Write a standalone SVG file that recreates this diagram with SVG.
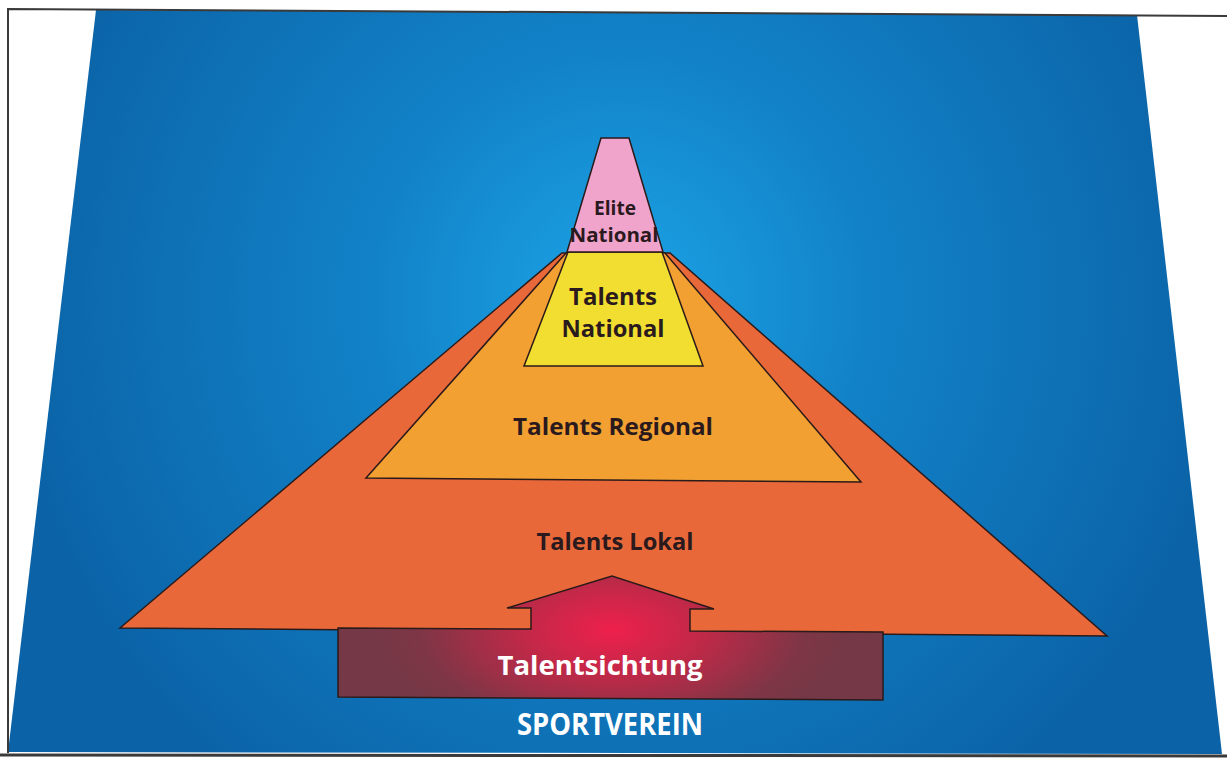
<svg xmlns="http://www.w3.org/2000/svg" width="1227" height="758" viewBox="0 0 1227 758">
  <defs>
    <radialGradient id="blueGlow" gradientUnits="userSpaceOnUse" cx="620" cy="300" r="620">
      <stop offset="0" stop-color="#1ca4e6"/>
      <stop offset="0.4" stop-color="#1282c8"/>
      <stop offset="1" stop-color="#0b62a6"/>
    </radialGradient>
    <radialGradient id="redGlow" gradientUnits="userSpaceOnUse" cx="612" cy="630" r="240" gradientTransform="translate(612 630) scale(1 0.5) translate(-612 -630)">
      <stop offset="0" stop-color="#ee204c"/>
      <stop offset="0.35" stop-color="#c42848"/>
      <stop offset="0.8" stop-color="#7e3646"/>
      <stop offset="1" stop-color="#743846"/>
    </radialGradient>
    <style>
      .edge { stroke: #2a1a1a; stroke-width: 1.5; stroke-linejoin: miter; }
      .lbl { font-family: "Open Sans", "Liberation Sans", sans-serif; font-weight: 700; fill: #2a1a1e; text-anchor: middle; }
      .wlbl { font-family: "Open Sans", "Liberation Sans", sans-serif; font-weight: 700; fill: #ffffff; text-anchor: middle; }
    </style>
  </defs>

  <rect x="0" y="0" width="1227" height="758" fill="#ffffff"/>

  <g id="background">
    <polygon points="96,10 1137,15 1222,754 8,752" fill="url(#blueGlow)"/>
    <polyline points="8,753 8,9 1227,16" fill="none" stroke="#3a3a3a" stroke-width="2"/>
    <line x1="0" y1="755" x2="1227" y2="756" stroke="#3a3a3a" stroke-width="3"/>
  </g>

  <g id="talents-lokal">
    <polygon class="edge" points="120,628 562,253 670,253 1107,636" fill="#e9683a"/>
    <text class="lbl" x="615" y="550" font-size="23" textLength="157" lengthAdjust="spacingAndGlyphs">Talents Lokal</text>
  </g>

  <g id="talents-regional">
    <polygon class="edge" points="366,478 566,253 665,253 861,482" fill="#f2a032"/>
    <text class="lbl" x="613" y="435" font-size="23" textLength="200" lengthAdjust="spacingAndGlyphs">Talents Regional</text>
  </g>

  <g id="talents-national">
    <polygon class="edge" points="524,366 568,252 662,252 703,366" fill="#f2de30"/>
    <text class="lbl" x="613" y="305" font-size="24" textLength="88" lengthAdjust="spacingAndGlyphs">Talents</text>
    <text class="lbl" x="613" y="337" font-size="24" textLength="103" lengthAdjust="spacingAndGlyphs">National</text>
  </g>

  <g id="elite-national">
    <polygon class="edge" points="601,138 629,138 663,252 567,252" fill="#f0a4cc"/>
    <text class="lbl" x="615" y="215" font-size="20" textLength="42" lengthAdjust="spacingAndGlyphs">Elite</text>
    <text class="lbl" x="614" y="242" font-size="20" textLength="89" lengthAdjust="spacingAndGlyphs">National</text>
  </g>

  <g id="connectors">
    <g id="talentsichtung">
      <polygon class="edge" points="338,628 531,629 531,608 507,608 612,576 714,609 690,609 690,631 883,632 883,700 338,697" fill="url(#redGlow)"/>
      <text class="wlbl" x="600" y="675" font-size="27" textLength="205" lengthAdjust="spacingAndGlyphs">Talentsichtung</text>
    </g>
  </g>

  <g id="sportverein">
    <text class="wlbl" x="610" y="735" font-size="30" textLength="186" lengthAdjust="spacingAndGlyphs">SPORTVEREIN</text>
  </g>
</svg>
